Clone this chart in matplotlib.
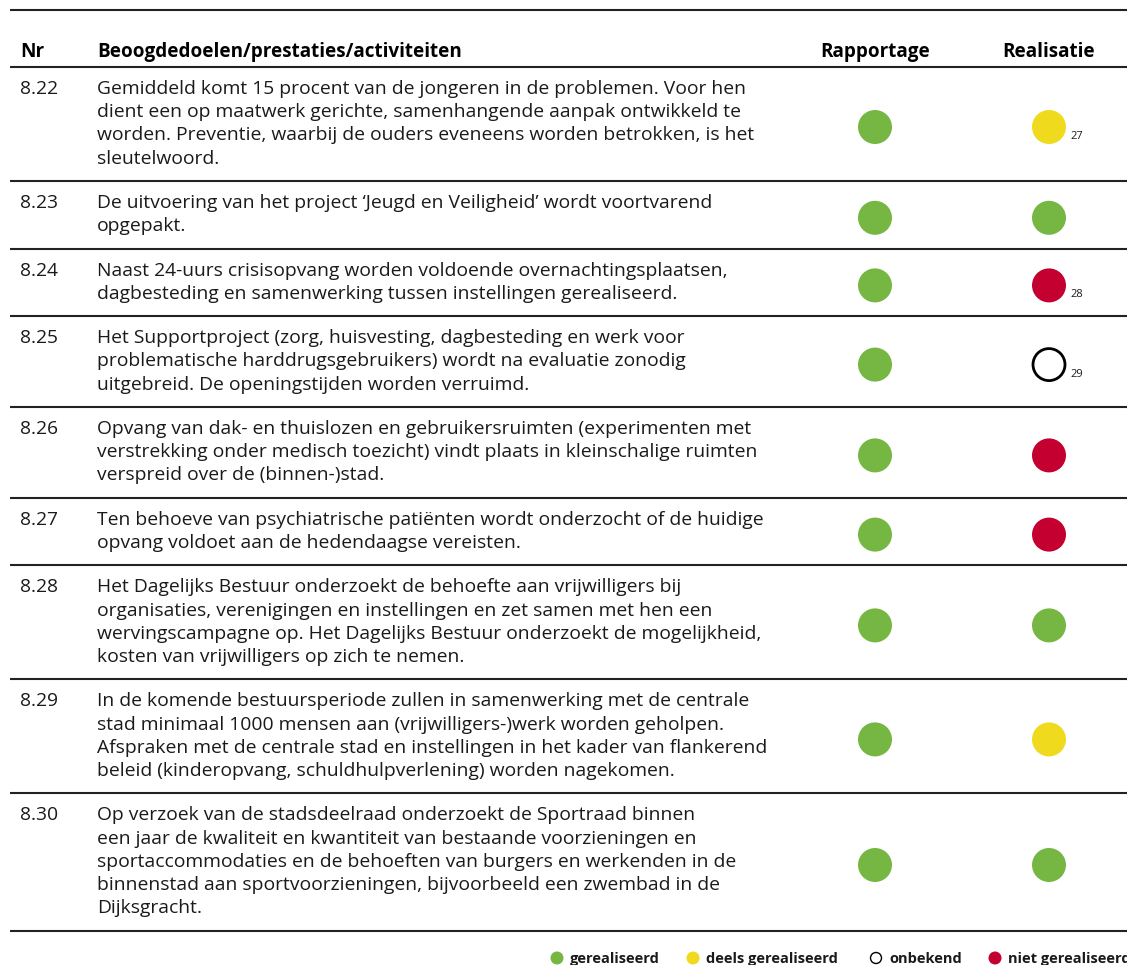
import matplotlib
matplotlib.use("Agg")
import matplotlib.pyplot as plt
from matplotlib.patches import Circle

plt.rcParams['font.family'] = ['Open Sans', 'DejaVu Sans']

# table content
nrs = ["8.22", "8.23", "8.24", "8.25", "8.26", "8.27", "8.28", "8.29", "8.30"]
texts = [
    "Gemiddeld komt 15 procent van de jongeren in de problemen. Voor hen\n"
    "dient een op maatwerk gerichte, samenhangende aanpak ontwikkeld te\n"
    "worden. Preventie, waarbij de ouders eveneens worden betrokken, is het\n"
    "sleutelwoord.",
    "De uitvoering van het project \u2018Jeugd en Veiligheid\u2019 wordt voortvarend\n"
    "opgepakt.",
    "Naast 24-uurs crisisopvang worden voldoende overnachtingsplaatsen,\n"
    "dagbesteding en samenwerking tussen instellingen gerealiseerd.",
    "Het Supportproject (zorg, huisvesting, dagbesteding en werk voor\n"
    "problematische harddrugsgebruikers) wordt na evaluatie zonodig\n"
    "uitgebreid. De openingstijden worden verruimd.",
    "Opvang van dak- en thuislozen en gebruikersruimten (experimenten met\n"
    "verstrekking onder medisch toezicht) vindt plaats in kleinschalige ruimten\n"
    "verspreid over de (binnen-)stad.",
    "Ten behoeve van psychiatrische pati\u00ebnten wordt onderzocht of de huidige\n"
    "opvang voldoet aan de hedendaagse vereisten.",
    "Het Dagelijks Bestuur onderzoekt de behoefte aan vrijwilligers bij\n"
    "organisaties, verenigingen en instellingen en zet samen met hen een\n"
    "wervingscampagne op. Het Dagelijks Bestuur onderzoekt de mogelijkheid,\n"
    "kosten van vrijwilligers op zich te nemen.",
    "In de komende bestuursperiode zullen in samenwerking met de centrale\n"
    "stad minimaal 1000 mensen aan (vrijwilligers-)werk worden geholpen.\n"
    "Afspraken met de centrale stad en instellingen in het kader van flankerend\n"
    "beleid (kinderopvang, schuldhulpverlening) worden nagekomen.",
    "Op verzoek van de stadsdeelraad onderzoekt de Sportraad binnen\n"
    "een jaar de kwaliteit en kwantiteit van bestaande voorzieningen en\n"
    "sportaccommodaties en de behoeften van burgers en werkenden in de\n"
    "binnenstad aan sportvoorzieningen, bijvoorbeeld een zwembad in de\n"
    "Dijksgracht.",
]
rapportage = ["g", "g", "g", "g", "g", "g", "g", "g", "g"]
realisatie = ["y", "g", "r", "o", "r", "r", "g", "y", "g"]
footnotes = ["27", "", "28", "29", "", "", "", "", ""]

headers = ["Nr", "Beoogdedoelen/prestaties/activiteiten", "Rapportage", "Realisatie"]
legend_keys = ["g", "y", "o", "r"]
legend_labels = ["gerealiseerd", "deels gerealiseerd", "onbekend", "niet gerealiseerd"]

colors = {"g": "#76b743", "y": "#f0da1d", "r": "#c3002f", "o": "white"}

W, H = 1127, 965
fig = plt.figure(figsize=(W / 100, H / 100), dpi=100)
ax = fig.add_axes([0, 0, 1, 1])
ax.set_xlim(0, W)
ax.set_ylim(H, 0)
ax.axis("off")

LINE = 23.2
PAD = 44.4
x_nr, x_txt, x_rap, x_real = 20, 97, 875, 1049
fs = 13.85


def dot(x, y, key, r):
    if key == "o":
        ax.add_patch(Circle((x, y), r - 1, facecolor="white", edgecolor="black", lw=2))
    else:
        ax.add_patch(Circle((x, y), r, facecolor=colors[key], edgecolor="none"))


def hline(y):
    ax.plot([10, W], [y, y], color="#222222", lw=1.5, solid_capstyle="butt")


hline(10)
hfs = 13.6
ax.text(x_nr, 57, headers[0], fontsize=hfs, fontweight="bold", va="baseline")
ax.text(x_txt, 57, headers[1], fontsize=hfs, fontweight="bold", va="baseline")
ax.text(x_rap, 57, headers[2], fontsize=hfs, fontweight="bold", va="baseline", ha="center")
ax.text(x_real, 57, headers[3], fontsize=hfs, fontweight="bold", va="baseline", ha="center")

top = 67
hline(top)
for nr, txt, rap, real, fn in zip(nrs, texts, rapportage, realisatie, footnotes):
    lines = txt.split("\n")
    h = LINE * (len(lines) - 1) + PAD
    ax.text(x_nr, top + 27, nr, fontsize=fs, va="baseline", color="#1a1a1a")
    for i, ln in enumerate(lines):
        ax.text(x_txt, top + 27 + i * LINE, ln, fontsize=fs, va="baseline", color="#1a1a1a")
    cy = top + h / 2 + 3
    dot(x_rap, cy, rap, 17)
    dot(x_real, cy, real, 17)
    if fn:
        ax.text(x_real + 21, cy + 12, fn, fontsize=8, va="baseline", color="#1a1a1a")
    top += h
    hline(top)

# legend (cut off at the right edge, as in the source)
leg_x = [557, 693, 876, 995]
for k, lab, lx in zip(legend_keys, legend_labels, leg_x):
    if k == "o":
        ax.add_patch(Circle((lx, 958), 5.5, facecolor="white", edgecolor="black", lw=1))
    else:
        ax.add_patch(Circle((lx, 958), 6.5, facecolor=colors[k], edgecolor="none"))
    ax.text(lx + 13, 963, lab, fontsize=10.5, fontweight="bold", va="baseline", color="#1a1a1a")

fig.savefig("out.png", dpi=100)
